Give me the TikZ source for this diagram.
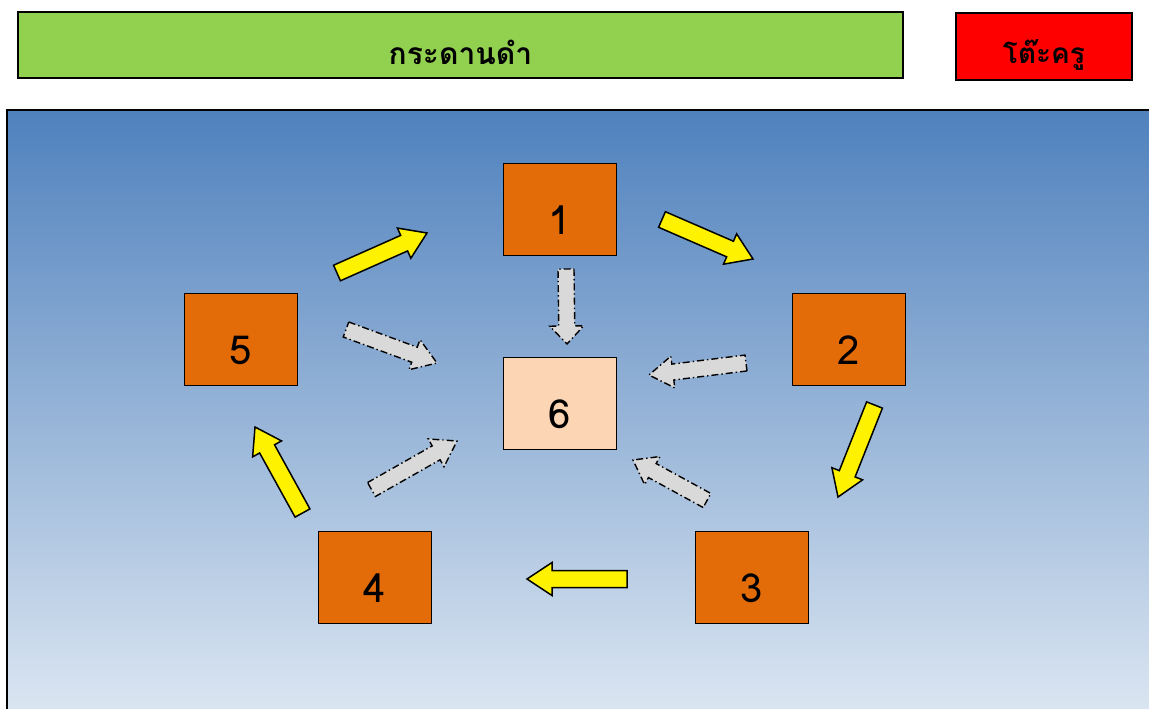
\documentclass[tikz,border=0pt]{standalone}
\usepackage{fontspec}
\newfontfamily\thaifont[Script=Thai]{Loma}
\usetikzlibrary{calc}
\definecolor{boardgreen}{HTML}{92D050}
\definecolor{deskred}{HTML}{FF0000}
\definecolor{seatorange}{HTML}{E36C09}
\definecolor{seatpeach}{HTML}{FCD5B5}
\definecolor{bgtop}{RGB}{79,129,189}
\definecolor{bgbottom}{RGB}{221,231,242}
\definecolor{arrowgray}{HTML}{D9D9D9}
\newcommand{\blockarrow}[6]{%
  \coordinate (hb) at ($(#2)!#5!(#1)$);
  \draw[#6] ($(#1)!#3!90:(#2)$) -- ($(hb)!#3!-90:(#1)$) -- ($(hb)!#4!-90:(#1)$) -- (#2)
    -- ($(hb)!#4!90:(#1)$) -- ($(hb)!#3!90:(#1)$) -- ($(#1)!#3!-90:(#2)$) -- cycle;
}
\begin{document}
\begin{tikzpicture}[x=1pt,y=-1pt,
  seat/.style={draw=black, line width=1pt, fill=seatorange, minimum width=113pt, minimum height=92pt,
     inner sep=0pt, font=\thaifont\fontsize{40}{44}\selectfont, text height=50pt, text depth=0pt},
  yarrow/.style={draw=black, line width=1.5pt, fill=yellow, line join=miter},
  garrow/.style={draw=black, line width=1.4pt, fill=arrowgray, dash pattern=on 7pt off 3pt on 1.4pt off 3pt}]
\useasboundingbox (0,0) rectangle (1149,709);
\clip (0,0) rectangle (1149,709);
% board and desk
\node[draw=black, line width=1.5pt, fill=boardgreen, minimum width=885pt, minimum height=66pt, inner sep=0pt,
  font=\thaifont\bfseries\fontsize{30}{34}\selectfont, text height=42pt, text depth=2pt] (board) at (460.5,45) {กระดานดำ};
\node[draw=black, line width=1.5pt, fill=deskred, minimum width=176pt, minimum height=67pt, inner sep=0pt,
  font=\thaifont\bfseries\fontsize{28}{32}\selectfont, text height=37pt, text depth=2pt] (desk) at (1044,46.5) {โต๊ะครู};
% classroom
\path[top color=bgtop, bottom color=bgbottom] (7,110) rectangle (1160,720);
\draw[line width=1.5pt] (7,720) -- (7,110) -- (1160,110);
% seats
\node[seat] (s1) at (559.5,209) {1};
\node[seat] (s2) at (848.5,339) {2};
\node[seat] (s3) at (751.5,577) {3};
\node[seat] (s4) at (375,577) {4};
\node[seat] (s5) at (240.5,339) {5};
\node[seat, fill=seatpeach] (s6) at (559.5,403.5) {6};
% arrow ends
\coordinate (a51t) at (337,273);   \coordinate (a51h) at (427,233);
\coordinate (a12t) at (662,219.5); \coordinate (a12h) at (753,259);
\coordinate (a23t) at (874.5,405); \coordinate (a23h) at (838,497);
\coordinate (a34t) at (627,579);   \coordinate (a34h) at (527,579);
\coordinate (a45t) at (302.5,513); \coordinate (a45h) at (255,427);
\coordinate (g16t) at (566,269);   \coordinate (g16h) at (567,344);
\coordinate (g56t) at (346,329.5); \coordinate (g56h) at (437,363);
\coordinate (g26t) at (746,363);   \coordinate (g26h) at (649,375);
\coordinate (g46t) at (371.5,489.5); \coordinate (g46h) at (457,441);
\coordinate (g36t) at (707,500.5); \coordinate (g36h) at (633,460);
% yellow arrows
\blockarrow{a51t}{a51h}{8.5pt}{16.5pt}{25pt}{yarrow}
\blockarrow{a12t}{a12h}{8.5pt}{16.5pt}{25pt}{yarrow}
\blockarrow{a23t}{a23h}{8.5pt}{16.5pt}{25pt}{yarrow}
\blockarrow{a34t}{a34h}{8.5pt}{16.5pt}{25pt}{yarrow}
\blockarrow{a45t}{a45h}{8.5pt}{16.5pt}{25pt}{yarrow}
% gray arrows
\blockarrow{g16t}{g16h}{8pt}{17pt}{18pt}{garrow}
\blockarrow{g56t}{g56h}{8pt}{16pt}{24pt}{garrow}
\blockarrow{g26t}{g26h}{8pt}{16pt}{24pt}{garrow}
\blockarrow{g46t}{g46h}{8pt}{16pt}{24pt}{garrow}
\blockarrow{g36t}{g36h}{8pt}{16pt}{22pt}{garrow}
\end{tikzpicture}
\end{document}
